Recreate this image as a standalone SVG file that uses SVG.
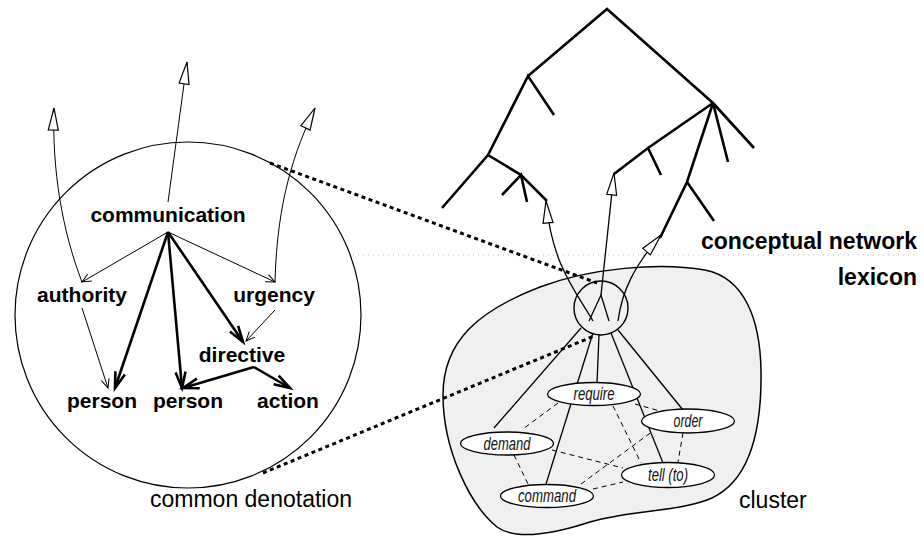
<svg xmlns="http://www.w3.org/2000/svg" width="924" height="536" viewBox="0 0 924 536">
<style>
.bold{font-family:"Liberation Sans",Arial,sans-serif;font-weight:bold;font-size:21px;fill:#000}
.big{font-family:"Liberation Sans",Arial,sans-serif;font-weight:bold;font-size:23px;fill:#000}
.plain{font-family:"Liberation Sans",Arial,sans-serif;font-size:23px;fill:#000}
.lex{font-family:"Liberation Sans",Arial,sans-serif;font-style:italic;font-size:17.5px;fill:#111}
.thin{fill:none;stroke:#000;stroke-width:1}
.thick{fill:none;stroke:#000;stroke-width:2.6}
.tree{fill:none;stroke:#000;stroke-width:2.6;stroke-linecap:butt;stroke-linejoin:miter}
.dot{fill:none;stroke:#000;stroke-width:3;stroke-dasharray:4 3.5}
.dash{fill:none;stroke:#000;stroke-width:1;stroke-dasharray:5 4}
.link{fill:none;stroke:#000;stroke-width:1.3}
.ell{fill:#fff;stroke:#000;stroke-width:1.3}
</style>
<defs>
<marker id="vthin" markerUnits="userSpaceOnUse" markerWidth="14" markerHeight="10" refX="9" refY="4" orient="auto" overflow="visible">
<path d="M0,0 L9,4 L0,8" fill="none" stroke="#000" stroke-width="1"/>
</marker>
<marker id="vthick" markerUnits="userSpaceOnUse" markerWidth="20" markerHeight="14" refX="16" refY="5" orient="auto" overflow="visible">
<path d="M0,0 L16,5 L0,10" fill="none" stroke="#000" stroke-width="2.6"/>
</marker>
<marker id="tri" markerUnits="userSpaceOnUse" markerWidth="26" markerHeight="14" refX="22" refY="5" orient="auto" overflow="visible">
<path d="M0,0 L22,5 L0,10 Z" fill="#fff" stroke="#000" stroke-width="1.2"/>
</marker>
</defs>

<!-- faint separator -->
<line x1="353" y1="255" x2="918" y2="255" stroke="#bbb" stroke-width="1" stroke-dasharray="1 4"/>

<!-- cluster blob -->
<g id="cluster">
<path d="M443,395 C443,340 480,310 540,287 C590,268 660,262 705,270 C745,278 760,320 761,370 C762,430 750,480 712,498 C680,512 630,510 590,522 C550,535 515,540 497,527 C470,505 443,450 443,395 Z" fill="#f0f0f0" stroke="#000" stroke-width="1.5"/>
<text class="plain" x="739" y="508">cluster</text>
</g>

<!-- big left circle -->
<g id="denotation">
<circle cx="188" cy="315" r="173" fill="none" stroke="#000" stroke-width="1.2"/>
<text class="plain" x="150" y="507">common denotation</text>
</g>

<!-- conceptual tree -->
<g id="tree">
<path class="tree" d="M528,76 L607,9 L713,103"/>
<path class="tree" d="M554,115 L528,76 L488,155 L442,208"/>
<path class="tree" d="M488,155 L521,175 L547,201"/>
<path class="tree" d="M502,195 L521,175 L527,202"/>
<path class="tree" d="M713,103 L648,148 L614,174"/>
<path class="tree" d="M648,148 L661,175"/>
<path class="tree" d="M728,162 L713,103 L754,148"/>
<path class="tree" d="M713,103 L687,182 L660,238"/>
<path class="tree" d="M687,182 L714,221"/>
</g>

<g id="labels">
<text class="big" x="917" y="249" text-anchor="end">conceptual network</text>
<text class="big" x="917" y="285" text-anchor="end">lexicon</text>
</g>

<!-- connectors -->
<g id="connectors">
<path class="dot" d="M270,163 L597,283"/>
<path class="dot" d="M263,473 L594,336"/>
<path class="link" d="M581,328 L494,428"/>
<path class="link" d="M593,333 L546,484"/>
<path class="link" d="M599,335 L597,383"/>
<path class="link" d="M611,333 L663,463"/>
<path class="link" d="M618,330 L683,410"/>
<path class="dash" d="M558,403 L523,429"/>
<path class="dash" d="M635,404 L660,411"/>
<path class="dash" d="M613,406 L641,463"/>
<path class="dash" d="M514,455 L528,484"/>
<path class="dash" d="M552,450 L623,468"/>
<path class="dash" d="M581,484 L653,431"/>
<path class="dash" d="M593,489 L623,482"/>
<path class="dash" d="M683,433 L678,462"/>
<path class="link" d="M593,321 C575,290 552,265 546,201" marker-end="url(#tri)"/>
<path class="link" d="M601,295 L614,173" marker-end="url(#tri)"/>
<path class="link" d="M589,321 L601,295 L609,321"/>
<path class="link" d="M618,321 C622,290 635,265 661,235" marker-end="url(#tri)"/>
<path class="thin" d="M82,282 C62,230 52,170 54,108" marker-end="url(#tri)"/>
<path class="thin" d="M168,202 L187,62" marker-end="url(#tri)"/>
<path class="thin" d="M275,282 C277,200 295,150 315,108" marker-end="url(#tri)"/>
<path class="thin" d="M168,232 L82,282" marker-end="url(#vthin)"/>
<path class="thin" d="M168,232 L275,282" marker-end="url(#vthin)"/>
<path class="thin" d="M82,308 L108,388" marker-end="url(#vthin)"/>
<path class="thin" d="M275,310 L246,341" marker-end="url(#vthin)"/>
<path class="thick" d="M168,232 L115,388" marker-end="url(#vthick)"/>
<path class="thick" d="M168,232 L182,388" marker-end="url(#vthick)"/>
<path class="thick" d="M168,232 L243,342" marker-end="url(#vthick)"/>
<path class="thick" d="M254,367 L183,388" marker-end="url(#vthick)"/>
<path class="thick" d="M254,367 L290,388" marker-end="url(#vthick)"/>
</g>

<circle id="lexcircle" cx="601" cy="308" r="27" fill="none" stroke="#000" stroke-width="1.4"/>

<g id="require"><ellipse class="ell" cx="594" cy="394" rx="46.5" ry="11.5"/><text class="lex" x="594" y="400" text-anchor="middle" textLength="41" lengthAdjust="spacingAndGlyphs">require</text></g>
<g id="order"><ellipse class="ell" cx="688" cy="421" rx="46.5" ry="12"/><text class="lex" x="688" y="427" text-anchor="middle" textLength="29" lengthAdjust="spacingAndGlyphs">order</text></g>
<g id="demand"><ellipse class="ell" cx="507" cy="443.5" rx="46.5" ry="11.5"/><text class="lex" x="507" y="449.5" text-anchor="middle" textLength="47" lengthAdjust="spacingAndGlyphs">demand</text></g>
<g id="tellto"><ellipse class="ell" cx="668" cy="475" rx="46.5" ry="12.5"/><text class="lex" x="668" y="481" text-anchor="middle" textLength="40" lengthAdjust="spacingAndGlyphs">tell (to)</text></g>
<g id="command"><ellipse class="ell" cx="547" cy="496" rx="46.5" ry="11.5"/><text class="lex" x="547" y="502" text-anchor="middle" textLength="58" lengthAdjust="spacingAndGlyphs">command</text></g>

<g id="communication"><text class="bold" x="168" y="222" text-anchor="middle">communication</text></g>
<g id="authority"><text class="bold" x="82" y="302" text-anchor="middle">authority</text></g>
<g id="urgency"><text class="bold" x="274" y="302" text-anchor="middle">urgency</text></g>
<g id="directive"><text class="bold" x="242" y="362" text-anchor="middle">directive</text></g>
<g id="person1"><text class="bold" x="102" y="408" text-anchor="middle">person</text></g>
<g id="person2"><text class="bold" x="188" y="408" text-anchor="middle">person</text></g>
<g id="action"><text class="bold" x="288" y="408" text-anchor="middle">action</text></g>
</svg>
